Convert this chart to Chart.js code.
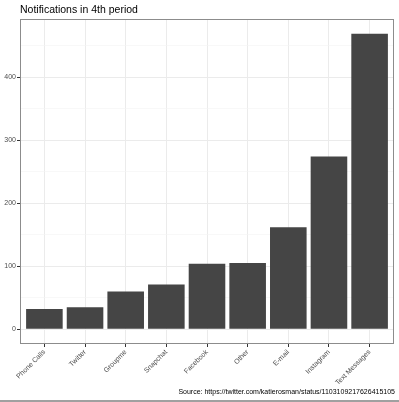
<!DOCTYPE html>
<html>
<head>
<meta charset="utf-8">
<script src="https://cdn.jsdelivr.net/npm/chart.js@4"></script>
<style>
  body { margin: 0; background: #fff; }
  #wrap { width: 399px; height: 402px; position: relative; }
  #frame { position: absolute; left: 0; top: 400px; width: 399px; height: 2px; background: #a0a0a0; }
</style>
</head>
<body>
<div id="wrap"><canvas id="GraficoNotificaciones"></canvas><div id="frame"></div></div>
<script>
'use strict'

const categories = ['Phone Calls', 'Twitter', 'Groupme', 'Snapchat', 'Facebook', 'Other', 'E-mail', 'Instagram', 'Text Messages'];
const notifications = [32, 35, 60, 71, 104, 105, 162, 274, 469];
const yTicks = [0, 50, 100, 150, 200, 250, 300, 350, 400, 450];
const yLabels = [0, 100, 200, 300, 400];

const titleText = 'Notifications in 4th period';
const captionText = 'Source: https://twitter.com/katierosman/status/1103109217626415105';

const fontFam = '"Liberation Sans", Arial, sans-serif';

// title, caption and panel border like ggplot theme_bw
const decor = {
  id: 'decor',
  afterDraw(chart) {
    const ctx = chart.ctx, a = chart.chartArea;
    ctx.save();
    ctx.strokeStyle = '#8c8c8c';
    ctx.lineWidth = 1;
    ctx.strokeRect(a.left + 0.5, a.top + 0.5, a.right - a.left - 1, a.bottom - a.top - 1);
    ctx.fillStyle = '#000';
    ctx.font = '10.5px ' + fontFam;
    ctx.textAlign = 'left';
    ctx.textBaseline = 'middle';
    ctx.fillText(titleText, a.left, 10);
    ctx.font = '7px ' + fontFam;
    ctx.textAlign = 'right';
    ctx.fillText(captionText, a.right + 1, 392);
    ctx.restore();
  }
};

const divGrafico = document.querySelector('#GraficoNotificaciones');

const data = {
  datasets: [{
    data: notifications.map((v, i) => ({ x: i, y: v })),
    backgroundColor: '#454545',
    borderWidth: 0,
    barPercentage: 0.9,
    categoryPercentage: 1
  }]
};

const config = {
  type: 'bar',
  data: data,
  options: {
    responsive: true,
    maintainAspectRatio: false,
    animation: false,
    layout: { padding: { top: 19, right: 5, bottom: 0, left: 0 } },
    plugins: { legend: { display: false }, tooltip: { enabled: false } },
    scales: {
      x: {
        type: 'linear',
        min: -0.6,
        max: categories.length - 0.4,
        offset: false,
        afterBuildTicks: s => { s.ticks = categories.map((c, i) => ({ value: i })); },
        afterFit: s => { s.height = 58; },
        grid: { offset: false, color: '#ebebeb', lineWidth: 1, tickColor: '#333', tickLength: 3, tickWidth: 1 },
        border: { display: false },
        ticks: {
          autoSkip: false,
          minRotation: 45,
          maxRotation: 45,
          padding: 1,
          color: '#4d4d4d',
          font: { size: 7, family: fontFam },
          callback: v => categories[v]
        }
      },
      y: {
        min: -23.45,
        max: 492.45,
        afterBuildTicks: s => { s.ticks = yTicks.map(v => ({ value: v })); },
        afterFit: s => { s.width = 20; },
        grid: {
          color: c => yLabels.includes(c.tick.value) ? '#ebebeb' : '#f3f3f3',
          lineWidth: c => yLabels.includes(c.tick.value) ? 1 : 0.6,
          tickColor: c => yLabels.includes(c.tick.value) ? '#333' : 'rgba(0,0,0,0)',
          tickLength: 3,
          tickWidth: 1
        },
        border: { display: false },
        ticks: {
          padding: 1,
          color: '#4d4d4d',
          font: { size: 7, family: fontFam },
          callback: v => yLabels.includes(v) ? String(v) : ''
        }
      }
    }
  },
  plugins: [decor]
};

const GraficoNotificaciones = new Chart(divGrafico, config);
</script>
</body>
</html>
